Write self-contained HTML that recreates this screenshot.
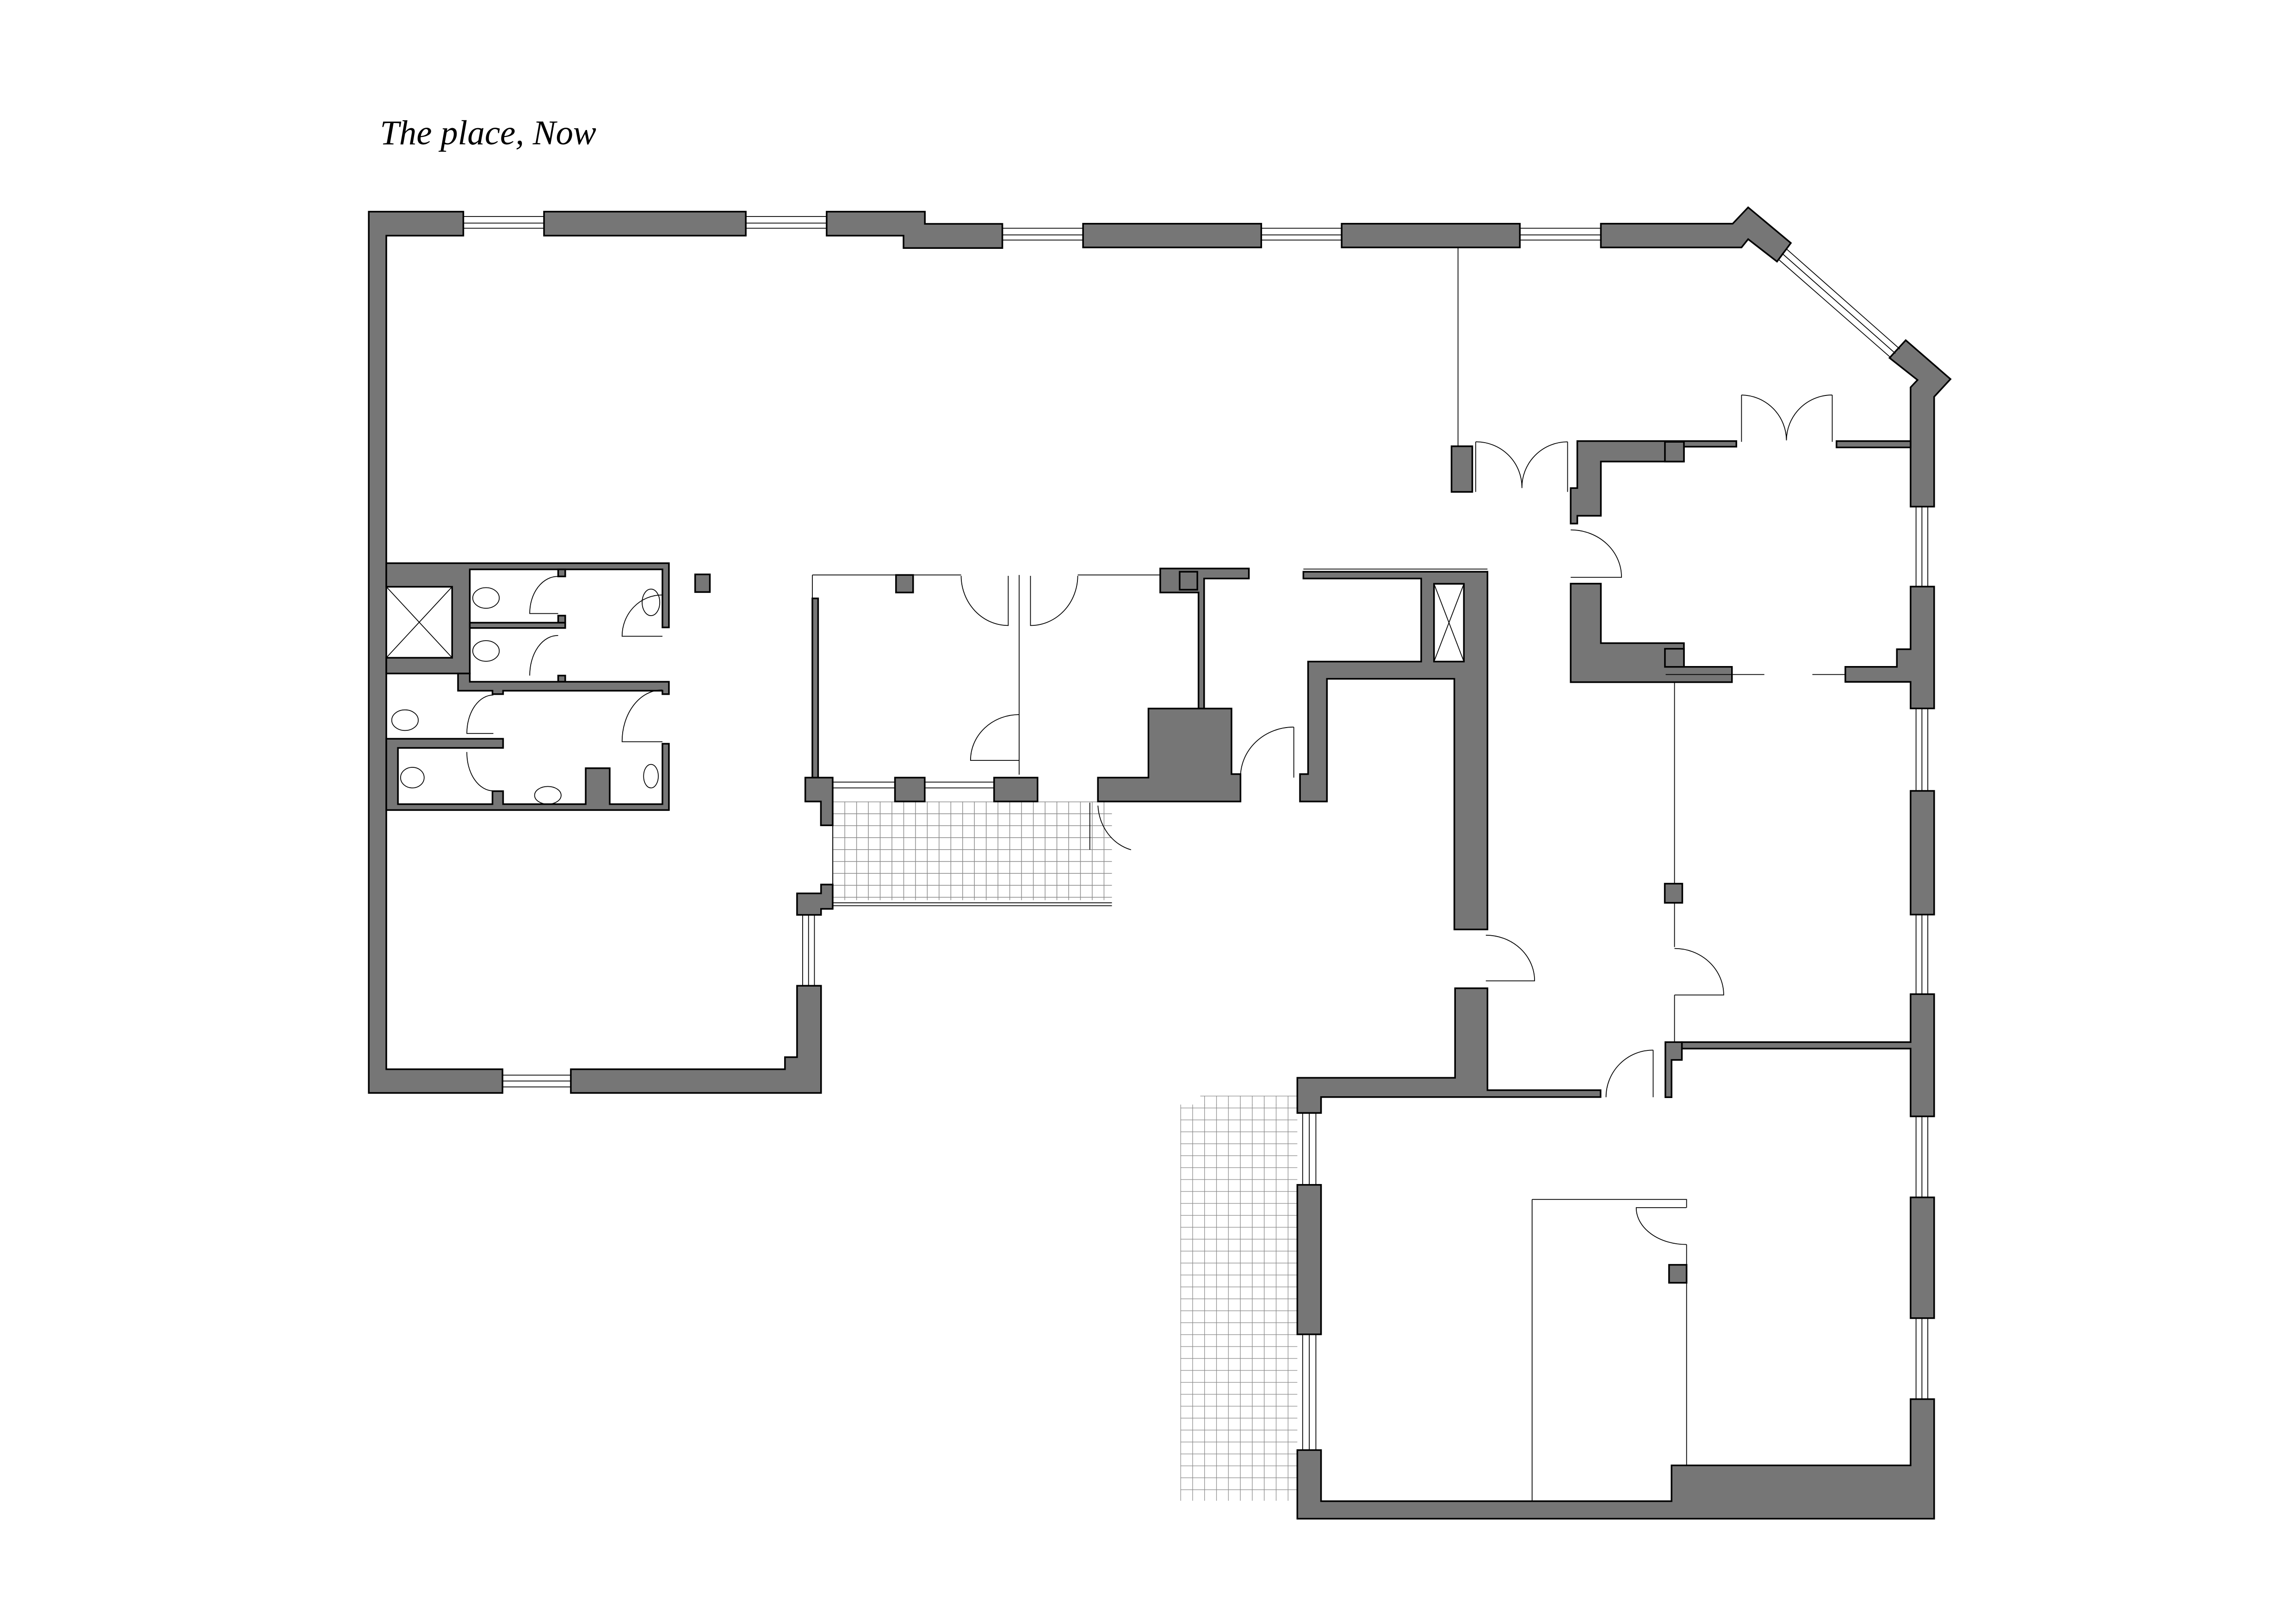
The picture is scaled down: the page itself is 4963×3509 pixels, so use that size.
<!DOCTYPE html>
<html><head><meta charset="utf-8"><style>
html,body{margin:0;padding:0;background:#fff;}
svg{display:block;}
</style></head><body>
<svg width="4963" height="3509" viewBox="0 0 1559 1102" preserveAspectRatio="none" xmlns="http://www.w3.org/2000/svg">
<defs>
<pattern id="g1" x="565.4" y="544.2" width="8" height="8.1" patternUnits="userSpaceOnUse"><path d="M0 0 H8 M0 0 V8.1" stroke="#8a8a8a" stroke-width="0.9" fill="none"/></pattern>
<pattern id="g2" x="801.5" y="744" width="8.1" height="8.1" patternUnits="userSpaceOnUse"><path d="M0 0 H8.1 M0 0 V8.1" stroke="#8a8a8a" stroke-width="0.8" fill="none"/></pattern>
</defs>
<rect width="1559" height="1102" fill="#fff"/>
<text x="258" y="98" font-family="Liberation Serif, serif" font-style="italic" font-size="23.5">The place, Now</text>
<rect x="565.4" y="544.2" width="189.6" height="67" fill="url(#g1)"/>
<rect x="801.5" y="750" width="79.4" height="269" fill="url(#g2)"/>
<rect x="815" y="744" width="65.9" height="6.5" fill="url(#g2)"/>
<g fill="#767676" stroke="#000" stroke-width="1.1" stroke-linejoin="miter">
<path d="M250.4 143.7 H314.6 V160 H262.3 V726 H341.2 V742.1 H250.4 Z"/>
<rect x="369.4" y="143.7" width="137" height="16.3"/>
<path d="M561.3 143.7 H628 V152 H680.6 V168.4 H613.5 V160 H561.3 Z"/>
<rect x="735.4" y="151.9" width="121" height="16.1"/>
<rect x="911" y="151.9" width="121" height="16.1"/>
<path d="M1087 151.9 H1176.5 L1187 140.8 L1216 165 L1206.6 177.6 L1187 162.4 L1182.5 168 H1087 Z"/>
<path d="M1283 243 L1294 231 L1324.4 257.4 L1313.3 269.4 V344 H1297.3 V263 L1302 258 Z"/>
<path d="M387.6 726 H533 V717.8 H541.2 V669.3 H557.5 V742.1 H387.6 Z"/>
<path d="M541.2 606.6 H557.5 V600.6 H565.4 V617.1 H557.5 V621.2 H541.2 Z"/>
<path d="M262.3 382.4 H454.2 V426 H449.8 V386.6 H319 V457.3 H262.3 V446.6 H307 V398.4 H262.3 Z"/>
<rect x="319" y="422.8" width="64.8" height="3.6"/>
<rect x="379" y="386.6" width="4.8" height="4.8"/>
<rect x="379" y="418" width="4.8" height="4.8"/>
<rect x="379" y="458.7" width="4.8" height="4.2"/>
<path d="M311 457.3 H319 V462.9 H454.2 V471.3 H449.8 V469 H341.6 V471.3 H334.4 V469 H311 Z"/>
<path d="M262.3 501.6 H341.6 V507.8 H270.2 V546 H334.4 V537.2 H341.6 V546 H397.7 V521.6 H414 V546 H449.8 V505 H454.2 V550 H262.3 Z"/>
<rect x="472" y="390" width="10" height="12"/>
<rect x="608.4" y="390.4" width="11.6" height="11.9"/>
<path d="M787.8 386 H848 V392.8 H817.6 V481.1 H813.8 V402.3 H787.8 Z"/>
<rect x="801" y="388.2" width="12" height="12.2"/>
<rect x="551.6" y="406.3" width="3.9" height="121.7"/>
<path d="M546.8 528 H565.4 V560.4 H557.4 V544.2 H546.8 Z"/>
<rect x="607.7" y="528" width="20.2" height="16.2"/>
<rect x="675" y="528" width="29.5" height="16.2"/>
<path d="M779.8 481.1 H836.2 V525.6 H842.3 V544.2 H745.5 V528 H779.8 Z"/>
<path d="M885 388.2 H1010 V457.3 H1010 V582 H1010 V631.1 H987.5 V460.9 H901 V544.2 H882.7 V525.6 H888.2 V449.2 H965 V392.8 H885 Z"/>
<rect x="973.7" y="396.4" width="20.3" height="52.8" fill="#fff"/>
<path d="M880.9 731.8 H988 V671 H1010 V740.2 H1086.8 V744.9 H897 V755.7 H880.9 Z"/>
<rect x="880.9" y="804.5" width="16.1" height="101.5"/>
<path d="M880.9 984.6 H897 V1019.3 H1135 V995 H1297.3 V950 H1313.3 V1031.2 H880.9 Z"/>
<path d="M1066.5 331.4 H1071 V299.5 H1179 V303.3 H1143.4 V313.4 H1087 V350.2 H1071 V355.5 H1066.5 Z"/>
<rect x="1130.5" y="300" width="12.9" height="13.4"/>
<rect x="1247" y="299.5" width="50.3" height="4.3"/>
<path d="M1066.5 396.3 H1087 V436.7 H1143.4 V452.8 H1176 V463.2 H1066.5 Z"/>
<rect x="1130.5" y="440.5" width="12.9" height="12.3"/>
<path d="M1297.3 398.3 H1313.3 V481 H1297.3 V463 H1253 V452.8 H1288 V440.8 H1297.3 Z"/>
<rect x="1297.3" y="537" width="16" height="84"/>
<path d="M1297.3 675 H1313.3 V758 H1297.3 V712 H1142 V707.6 H1297.3 Z"/>
<rect x="1297.3" y="813" width="16" height="82"/>
<rect x="985.6" y="303" width="14.1" height="31"/>
<rect x="1130.4" y="600" width="11.9" height="13"/>
<path d="M1130.8 707.6 H1142 V719.7 H1135 V745 H1130.8 Z"/>
<rect x="1133.3" y="858.8" width="11.9" height="12.2"/>
</g>
<g fill="none" stroke="#000" stroke-width="0.55">
<path d="M314.6 147 H369.4 M314.6 151.5 H369.4 M314.6 155 H369.4 M506.4 147 H561.3 M506.4 151.5 H561.3 M506.4 155 H561.3 M680.6 155 H735.4 M680.6 159.5 H735.4 M680.6 163 H735.4 M856.4 155 H911 M856.4 159.5 H911 M856.4 163 H911 M1032 155 H1087 M1032 159.5 H1087 M1032 163 H1087"/>
<path d="M1213 169 L1290 237 M1210 172 L1287 240 M1207.5 176 L1284 243"/>
<path d="M1301 344 V398.3 M1305 344 V398.3 M1309 344 V398.3 M1301 481 V537 M1305 481 V537 M1309 481 V537 M1301 621 V675 M1305 621 V675 M1309 621 V675 M1301 758 V813 M1305 758 V813 M1309 758 V813 M1301 895 V950 M1305 895 V950 M1309 895 V950"/>
<path d="M884.5 755.7 V804.5 M889 755.7 V804.5 M893.5 755.7 V804.5 M884.5 906 V984.6 M889 906 V984.6 M893.5 906 V984.6"/>
<path d="M341.2 730 H387.6 M341.2 734 H387.6 M341.2 738 H387.6 M545 621.2 V669.3 M549 621.2 V669.3 M553 621.2 V669.3"/>
<path d="M565.4 531 H607.7 M565.4 535 H607.7 M627.9 531 H675 M627.9 535 H675 M565.4 615 H755 M565.4 613 H755 M565.4 544.5 V617"/>
<path d="M551.6 390.4 H608.4 M620 390.4 H652.6 M731.8 390.4 H787.8 M551.6 390.4 V406.3 M692 390.4 V526 M990 168 V303 M885 386.4 H1010 M1137 463.2 V600 M1137 613 V643 M1137 675.6 V707.6 M1040.3 814.4 H1145.2 V820 M1040.3 814.4 V1019.3 M1145.2 845 V858.8 M1145.2 871 V995 M1131 458 H1198 M1230.6 458 H1253"/>
<path d="M652.6 391 A32 34 0 0 0 684.6 424.7 V391 M731.8 391 A32 34 0 0 1 699.7 424.7 V391"/>
<path d="M692 485.2 A33 31 0 0 0 659 516.3 H692"/>
<path d="M878.5 493.7 A36 34 0 0 0 842.3 528 M878.5 493.7 V528"/>
<path d="M379 391.4 A19 25 0 0 0 359.7 416.6 H379 M379 431.5 A19 27 0 0 0 359.7 458.7 M449.8 404 A27 28 0 0 0 422.4 432 H449.8 M335 471.9 A18 26 0 0 0 317 498 H335 M317 510.6 A18 26 0 0 0 335 537 M449.8 468.5 A27 35 0 0 0 422.4 503.6 H449.8"/>
<path d="M1002 300 A31 31 0 0 1 1033.4 331.4 M1064.4 300 A31 31 0 0 0 1033.4 331.4 M1002 300 V334 M1064.4 300 V334"/>
<path d="M1182.5 268.2 A31 31 0 0 1 1213 299 M1244.1 268.2 A31 31 0 0 0 1213 299 M1182.5 268.2 V300 M1244.1 268.2 V300"/>
<path d="M1066.5 359.8 A34.5 32 0 0 1 1101 392 H1066.5"/>
<path d="M1008.9 635 A33 31 0 0 1 1042 666 H1008.9"/>
<path d="M1137 644 A33.4 31.6 0 0 1 1170.4 675.6 H1137"/>
<path d="M1122.5 713 A32 32 0 0 0 1090.5 745 M1122.5 713 V745"/>
<path d="M1145 820 H1111 A34 25 0 0 0 1145.2 845"/>
<path d="M745.5 547 A30 33 0 0 0 768 577 M740 545 V577"/>
<rect x="262.3" y="398.4" width="44.7" height="48.2"/><path d="M262.3 398.4 L307 446.6 M307 398.4 L262.3 446.6"/>
<path d="M973.7 396.4 L994 449.2 M994 396.4 L973.7 449.2"/>
<ellipse cx="330" cy="406" rx="9" ry="7"/><ellipse cx="330" cy="442" rx="9" ry="7"/>
<ellipse cx="442" cy="409" rx="6" ry="9"/><ellipse cx="275" cy="489" rx="9" ry="7"/>
<ellipse cx="280" cy="528" rx="8" ry="7"/><ellipse cx="372" cy="540" rx="9" ry="6"/>
<ellipse cx="442" cy="527" rx="5" ry="8"/>
</g>
</svg>
</body></html>
